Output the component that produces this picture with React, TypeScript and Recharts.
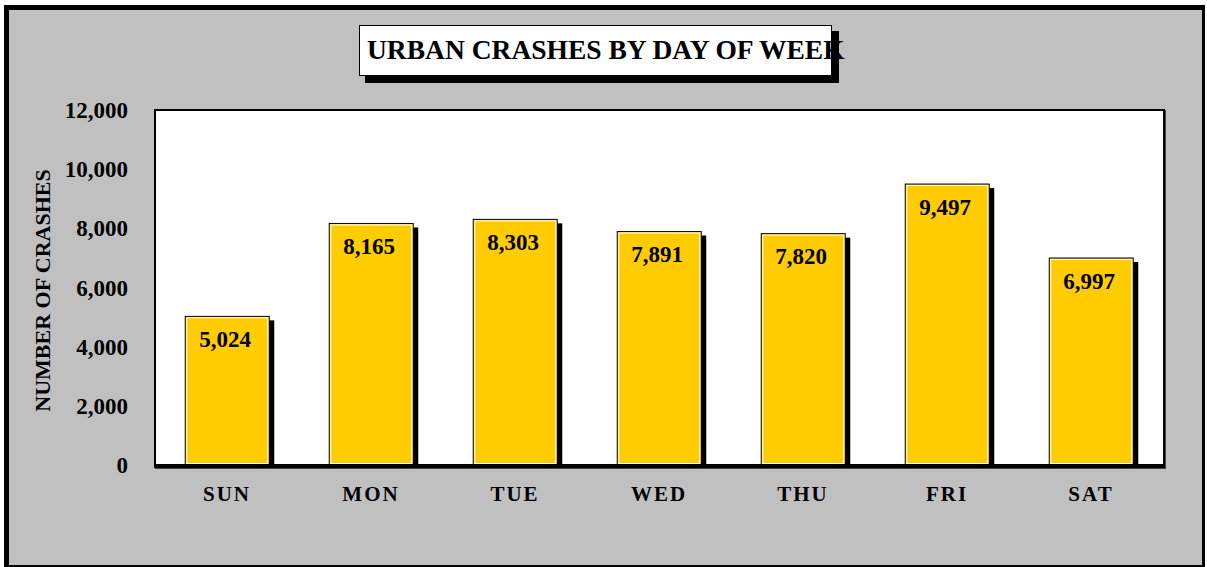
import React from "react";
import { BarChart, Bar, XAxis, YAxis, LabelList } from "recharts";

const days = ["SUN", "MON", "TUE", "WED", "THU", "FRI", "SAT"];
const crashes = [5024, 8165, 8303, 7891, 7820, 9497, 6997];
const yTicks = [0, 2000, 4000, 6000, 8000, 10000, 12000];

const data = days.map((day, i) => ({ day, crashes: crashes[i] }));

const FONT = '"Liberation Serif", "Times New Roman", serif';
const W = 1207;
const H = 567;
const M = { top: 110, right: 44, bottom: 72, left: 0 };

function fmt(n: number) {
  return n.toLocaleString("en-US");
}

function ShadowBar(props: any) {
  const { x, y, width, height } = props;
  if (!height || height <= 0) return null;
  return (
    <g>
      <rect x={x + 5} y={y + 4} width={width} height={height - 4} fill="#000" />
      <rect x={x} y={y} width={width} height={height} fill="#ffcc00" stroke="#000" strokeWidth={1} />
      <rect x={x + 1.5} y={y + 1.5} width={width - 3} height={height - 3} fill="none" stroke="#fff" strokeWidth={1} />
    </g>
  );
}

function BarValue(props: any) {
  const { x, y, width, value } = props;
  return (
    <text
      x={x + width / 2 - 2}
      y={y + 23}
      textAnchor="middle"
      dominantBaseline="central"
      fontFamily={FONT}
      fontWeight="bold"
      fontSize={23}
      fill="#000"
    >
      {fmt(value)}
    </text>
  );
}

function AxisTitle(props: any) {
  const { viewBox } = props;
  const cy = viewBox.y + viewBox.height / 2 + 3;
  return (
    <text
      x={42}
      y={cy}
      transform={`rotate(-90, 42, ${cy})`}
      textAnchor="middle"
      dominantBaseline="central"
      fontFamily={FONT}
      fontWeight="bold"
      fontSize={22}
      fill="#000"
    >
      NUMBER OF CRASHES
    </text>
  );
}

export default function App() {
  return (
    <div style={{ position: "fixed", left: 0, top: 0, width: W, height: H, background: "#fff", fontFamily: FONT }}>
      {/* outer frame */}
      <div
        style={{
          position: "absolute",
          left: 4,
          top: 5,
          width: 1205 - 4 - 8,
          height: 567 - 5 - 7,
          background: "#c0c0c0",
          borderLeft: "5px solid #000",
          borderTop: "5px solid #000",
          borderRight: "3px solid #000",
          borderBottom: "2px solid #000",
        }}
      />
      {/* plot background */}
      <div
        style={{
          position: "absolute",
          left: 154,
          top: 109,
          width: 1163 - 154 - 2,
          height: 466 - 109 - 2,
          background: "#fff",
          border: "2px solid #000",
          boxShadow: "1px 1px 0 #444",
        }}
      />
      {/* title box */}
      <div
        style={{
          position: "absolute",
          left: 365,
          top: 31,
          width: 474,
          height: 52,
          background: "#000",
        }}
      />
      <div
        style={{
          position: "absolute",
          left: 359,
          top: 25,
          width: 471,
          height: 49,
          background: "#fff",
          border: "1.5px solid #000",
        }}
      />
      <div
        style={{
          position: "absolute",
          left: 367,
          top: 35,
          whiteSpace: "nowrap",
          fontFamily: FONT,
          fontWeight: "bold",
          fontSize: 27.5,
          lineHeight: "30px",
          color: "#000",
        }}
      >
        URBAN CRASHES BY DAY OF WEEK
      </div>
      <div style={{ position: "absolute", left: 0, top: 0 }}>
        <BarChart width={W} height={H} data={data} margin={M} barCategoryGap="21%">
          <XAxis
            dataKey="day"
            height={30}
            axisLine={{ stroke: "#000", strokeWidth: 2 }}
            tickLine={false}
            tickSize={0}
            tickMargin={21}
            tick={{ fill: "#000", fontFamily: FONT, fontWeight: "bold", fontSize: 21, letterSpacing: 2 }}
          />
          <YAxis
            width={155}
            domain={[0, 12000]}
            ticks={yTicks}
            interval={0}
            tickFormatter={(v: number) => fmt(v)}
            axisLine={{ stroke: "#000", strokeWidth: 2 }}
            tickLine={false}
            tickSize={0}
            tickMargin={27}
            tick={{ fill: "#000", fontFamily: FONT, fontWeight: "bold", fontSize: 23 }}
            label={{ content: AxisTitle } as any}
          />
          <Bar dataKey="crashes" shape={ShadowBar} isAnimationActive={false}>
            <LabelList dataKey="crashes" content={BarValue} />
          </Bar>
        </BarChart>
      </div>
    </div>
  );
}
